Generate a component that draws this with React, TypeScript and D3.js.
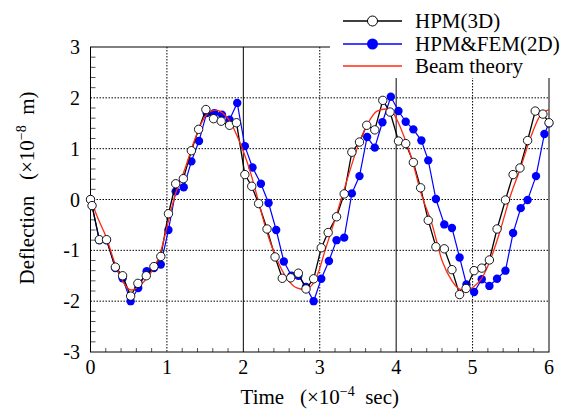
import React from "react";
import * as d3 from "d3";

// ---- data ----
const hpm3dT = [0, 0.02, 0.115, 0.21, 0.325, 0.42, 0.525, 0.62, 0.73, 0.83, 0.92, 1.02, 1.115, 1.215, 1.32, 1.415, 1.51, 1.61, 1.71, 1.82, 1.91, 2.02, 2.11, 2.2, 2.31, 2.415, 2.51, 2.62, 2.72, 2.82, 2.92, 3.02, 3.11, 3.22, 3.32, 3.42, 3.52, 3.615, 3.72, 3.825, 3.92, 4.03, 4.125, 4.225, 4.32, 4.42, 4.52, 4.63, 4.73, 4.83, 4.915, 5.02, 5.12, 5.22, 5.32, 5.43, 5.53, 5.62, 5.72, 5.82, 5.92, 6.0];
const hpm3dV = [0, -0.12, -0.79, -0.79, -1.33, -1.5, -1.9, -1.65, -1.5, -1.32, -1.12, -0.28, 0.31, 0.41, 0.96, 1.38, 1.77, 1.59, 1.54, 1.46, 1.51, 0.49, 0.26, -0.08, -0.58, -1.13, -1.55, -1.54, -1.45, -1.76, -1.56, -0.95, -0.65, -0.34, 0.11, 0.93, 1.13, 1.46, 1.37, 1.95, 1.72, 1.15, 1.1, 0.73, 0.23, -0.41, -0.93, -0.97, -1.38, -1.87, -1.75, -1.4, -1.35, -1.19, -0.58, -0.01, 0.49, 0.62, 1.16, 1.74, 1.68, 1.51];

const femT = [0, 0.02, 0.115, 0.21, 0.325, 0.42, 0.525, 0.625, 0.735, 0.83, 0.92, 1.02, 1.115, 1.22, 1.32, 1.42, 1.52, 1.62, 1.72, 1.82, 1.92, 2.02, 2.12, 2.23, 2.33, 2.43, 2.53, 2.63, 2.72, 2.82, 2.92, 3.02, 3.12, 3.22, 3.32, 3.42, 3.52, 3.62, 3.72, 3.82, 3.93, 4.03, 4.125, 4.225, 4.33, 4.42, 4.52, 4.63, 4.73, 4.83, 4.92, 5.02, 5.12, 5.22, 5.32, 5.43, 5.53, 5.63, 5.72, 5.83, 5.94, 6.0];
const femV = [0, -0.12, -0.8, -0.8, -1.35, -1.55, -2.0, -1.74, -1.41, -1.35, -1.28, -0.6, 0.16, 0.24, 0.75, 1.15, 1.7, 1.7, 1.67, 1.57, 1.9, 1.05, 0.63, 0.31, -0.07, -0.6, -1.22, -1.5, -1.5, -1.72, -2.0, -1.56, -1.21, -0.8, -0.75, 0.12, 0.46, 1.23, 1.02, 1.52, 2.02, 1.74, 1.53, 1.38, 1.16, 0.77, 0.01, -0.49, -0.56, -1.14, -1.67, -1.82, -1.57, -1.7, -1.56, -1.4, -0.66, -0.17, -0.01, 0.46, 1.29, 1.5];

const beamT = [0, 0.1, 0.2, 0.33, 0.45, 0.53, 0.64, 0.77, 0.9, 1.0, 1.1, 1.24, 1.35, 1.45, 1.56, 1.65, 1.73, 1.82, 1.91, 2.0, 2.1, 2.2, 2.3, 2.44, 2.57, 2.7, 2.8, 2.9, 2.98, 3.07, 3.2, 3.32, 3.5, 3.63, 3.75, 3.87, 3.95, 4.02, 4.1, 4.2, 4.33, 4.47, 4.6, 4.73, 4.84, 4.93, 5.01, 5.12, 5.23, 5.36, 5.49, 5.62, 5.75, 5.88, 6.0];
const beamV = [0, -0.38, -0.72, -1.3, -1.68, -1.78, -1.7, -1.48, -1.12, -0.55, 0.05, 0.62, 1.12, 1.5, 1.73, 1.76, 1.7, 1.55, 1.28, 0.95, 0.5, -0.05, -0.6, -1.18, -1.55, -1.74, -1.77, -1.68, -1.44, -1.0, -0.39, 0.2, 1.05, 1.5, 1.74, 1.78, 1.72, 1.54, 1.25, 0.82, 0.1, -0.49, -1.2, -1.6, -1.77, -1.79, -1.72, -1.55, -1.2, -0.62, 0.05, 0.59, 1.18, 1.64, 1.77];

const xTicks = [0, 1, 2, 3, 4, 5, 6];
const yTicks = [-3, -2, -1, 0, 1, 2, 3];
const legendLabels = ["HPM(3D)", "HPM&FEM(2D)", "Beam theory"];

const W = 570, H = 416;
const M = { left: 90.5, right: 549, top: 47, bottom: 352 };
const FONT = "'Liberation Serif', 'DejaVu Serif', 'Times New Roman', serif";
const BLUE = "#0000ff";
const RED = "#ff2a10";

export default function App() {
  const x = d3.scaleLinear().domain([0, 6]).range([M.left, M.right]);
  const y = d3.scaleLinear().domain([-3, 3]).range([M.bottom, M.top]);

  const black = hpm3dT.map((t, i) => [t, hpm3dV[i]] as [number, number]);
  const blue = femT.map((t, i) => [t, femV[i]] as [number, number]);
  const red = beamT.map((t, i) => [t, beamV[i]] as [number, number]);

  const lin = d3.line<[number, number]>().x(d => x(d[0])).y(d => y(d[1]));
  const smooth = d3.line<[number, number]>().x(d => x(d[0])).y(d => y(d[1])).curve(d3.curveMonotoneX);

  const minorX = d3.range(0, 6.0001, 0.2).filter(v => Math.abs(v - Math.round(v)) > 1e-6);
  const minorY = d3.range(-3, 3.0001, 0.2).filter(v => Math.abs(v - Math.round(v)) > 1e-6);

  const lx0 = 343, lx1 = 402, ltx = 415;
  const ly = [21, 44, 66];

  return (
    <svg width={W} height={H} style={{ position: "absolute", left: 0, top: 0, background: "#fff", fontFamily: FONT }}>
      <rect x={0} y={0} width={W} height={H} fill="#fff" />
      {/* grid */}
      {[-2, -1, 0, 1, 2].map(v => (
        <line key={"gy" + v} x1={M.left} x2={M.right} y1={y(v)} y2={y(v)} stroke="#000" strokeWidth={1} strokeDasharray="1.5,1.5" />
      ))}
      {[1, 3, 5].map(v => (
        <line key={"gx" + v} x1={x(v)} x2={x(v)} y1={M.top} y2={M.bottom} stroke="#000" strokeWidth={1} strokeDasharray="1.5,1.5" />
      ))}
      {[2, 4].map(v => (
        <line key={"sx" + v} x1={x(v)} x2={x(v)} y1={M.top} y2={M.bottom} stroke="#000" strokeWidth={1} />
      ))}
      {/* minor ticks */}
      {minorX.map(v => (
        <line key={"mx" + v} x1={x(v)} x2={x(v)} y1={M.bottom} y2={M.bottom - 4} stroke="#555" strokeWidth={1} />
      ))}
      {minorY.map(v => (
        <line key={"my" + v} x1={M.left} x2={M.left + 5} y1={y(v)} y2={y(v)} stroke="#555" strokeWidth={1} />
      ))}
      {/* frame */}
      <rect x={M.left} y={M.top} width={M.right - M.left} height={M.bottom - M.top} fill="none" stroke="#000" strokeWidth={1} />

      {/* series */}
      <path d={lin(blue) || ""} fill="none" stroke={BLUE} strokeWidth={1.2} />
      {blue.map((d, i) => (
        <circle key={"b" + i} cx={x(d[0])} cy={y(d[1])} r={4.2} fill={BLUE} />
      ))}
      <path d={lin(black) || ""} fill="none" stroke="#000" strokeWidth={1.3} />
      <path d={smooth(red) || ""} fill="none" stroke={RED} strokeWidth={1.3} />
      {black.map((d, i) => (
        <circle key={"k" + i} cx={x(d[0])} cy={y(d[1])} r={4.2} fill="#fff" stroke="#000" strokeWidth={0.9} />
      ))}

      {/* tick labels */}
      {yTicks.map(v => (
        <text key={"yl" + v} x={80} y={y(v)} dy="0.35em" textAnchor="end" fontSize={20}>{v}</text>
      ))}
      {xTicks.map(v => (
        <text key={"xl" + v} x={x(v)} y={374} textAnchor="middle" fontSize={20}>{v}</text>
      ))}

      {/* axis titles */}
      <text x={(M.left + M.right) / 2} y={404} textAnchor="middle" fontSize={21}>
        Time{"\u00a0\u00a0\u00a0"}(×10<tspan dy={-8} fontSize={14}>−4</tspan><tspan dy={8}>{"\u00a0\u00a0"}sec)</tspan>
      </text>
      <text transform={`translate(34, 188) rotate(-90)`} textAnchor="middle" fontSize={21}>
        Deflection{"\u00a0\u00a0\u00a0"}(×10<tspan dy={-8} fontSize={14}>−8</tspan><tspan dy={8}>{"\u00a0\u00a0"}m)</tspan>
      </text>

      {/* legend */}
      <rect x={330} y={0} width={240} height={78} fill="#fff" />
      <line x1={lx0} x2={lx1} y1={ly[0]} y2={ly[0]} stroke="#000" strokeWidth={1.5} />
      <circle cx={(lx0 + lx1) / 2} cy={ly[0]} r={5} fill="#fff" stroke="#000" strokeWidth={1} />
      <line x1={lx0} x2={lx1} y1={ly[1]} y2={ly[1]} stroke={BLUE} strokeWidth={1.5} />
      <circle cx={(lx0 + lx1) / 2} cy={ly[1]} r={5.5} fill={BLUE} />
      <line x1={lx0} x2={lx1} y1={ly[2]} y2={ly[2]} stroke={RED} strokeWidth={1.5} />
      {legendLabels.map((s, i) => (
        <text key={s} x={ltx} y={ly[i]} dy="0.35em" fontSize={21}>{s}</text>
      ))}
    </svg>
  );
}
